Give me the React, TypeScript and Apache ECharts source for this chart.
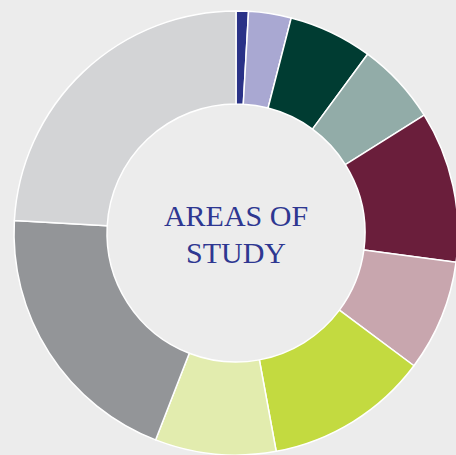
import React, { useEffect, useRef } from "react";
import * as echarts from "echarts";

const categories = ["Area 1", "Area 2", "Area 3", "Area 4", "Area 5", "Area 6", "Area 7", "Area 8", "Area 9", "Area 10"];
const shares = [0.9, 3.1, 6.1, 6.0, 11.0, 8.1, 11.9, 8.8, 20.0, 24.1];
const colors = ["#2a3287", "#a9a8d2", "#003c32", "#92aca8", "#6a1e3b", "#c8a6ae", "#c3da40", "#e2ecae", "#939598", "#d3d4d6"];
const centerLines = ["AREAS OF", "STUDY"];

export default function App() {
  const ref = useRef<HTMLDivElement>(null);
  useEffect(() => {
    document.body.style.margin = "0";
    const chart = echarts.init(ref.current!, null, { renderer: "svg" });
    chart.setOption({
      animation: false,
      backgroundColor: "#ececec",
      graphic: [
        {
          type: "text",
          x: 236,
          y: 234,
          style: {
            text: centerLines.join("\n"),
            fill: "#2e3791",
            font: "30px 'Liberation Serif'",
            lineHeight: 37,
            align: "center",
            verticalAlign: "middle",
          },
        },
      ],
      series: [
        {
          type: "pie",
          center: [236, 233],
          radius: [129, 222],
          startAngle: 90,
          clockwise: true,
          label: { show: false },
          labelLine: { show: false },
          emphasis: { disabled: true },
          itemStyle: { borderColor: "#ffffff", borderWidth: 1.5 },
          data: categories.map((c, i) => ({ name: c, value: shares[i], itemStyle: { color: colors[i] } })),
        },
      ],
    });
    return () => chart.dispose();
  }, []);
  return <div ref={ref} style={{ position: "absolute", left: 0, top: 0, width: 456, height: 455 }} />;
}
